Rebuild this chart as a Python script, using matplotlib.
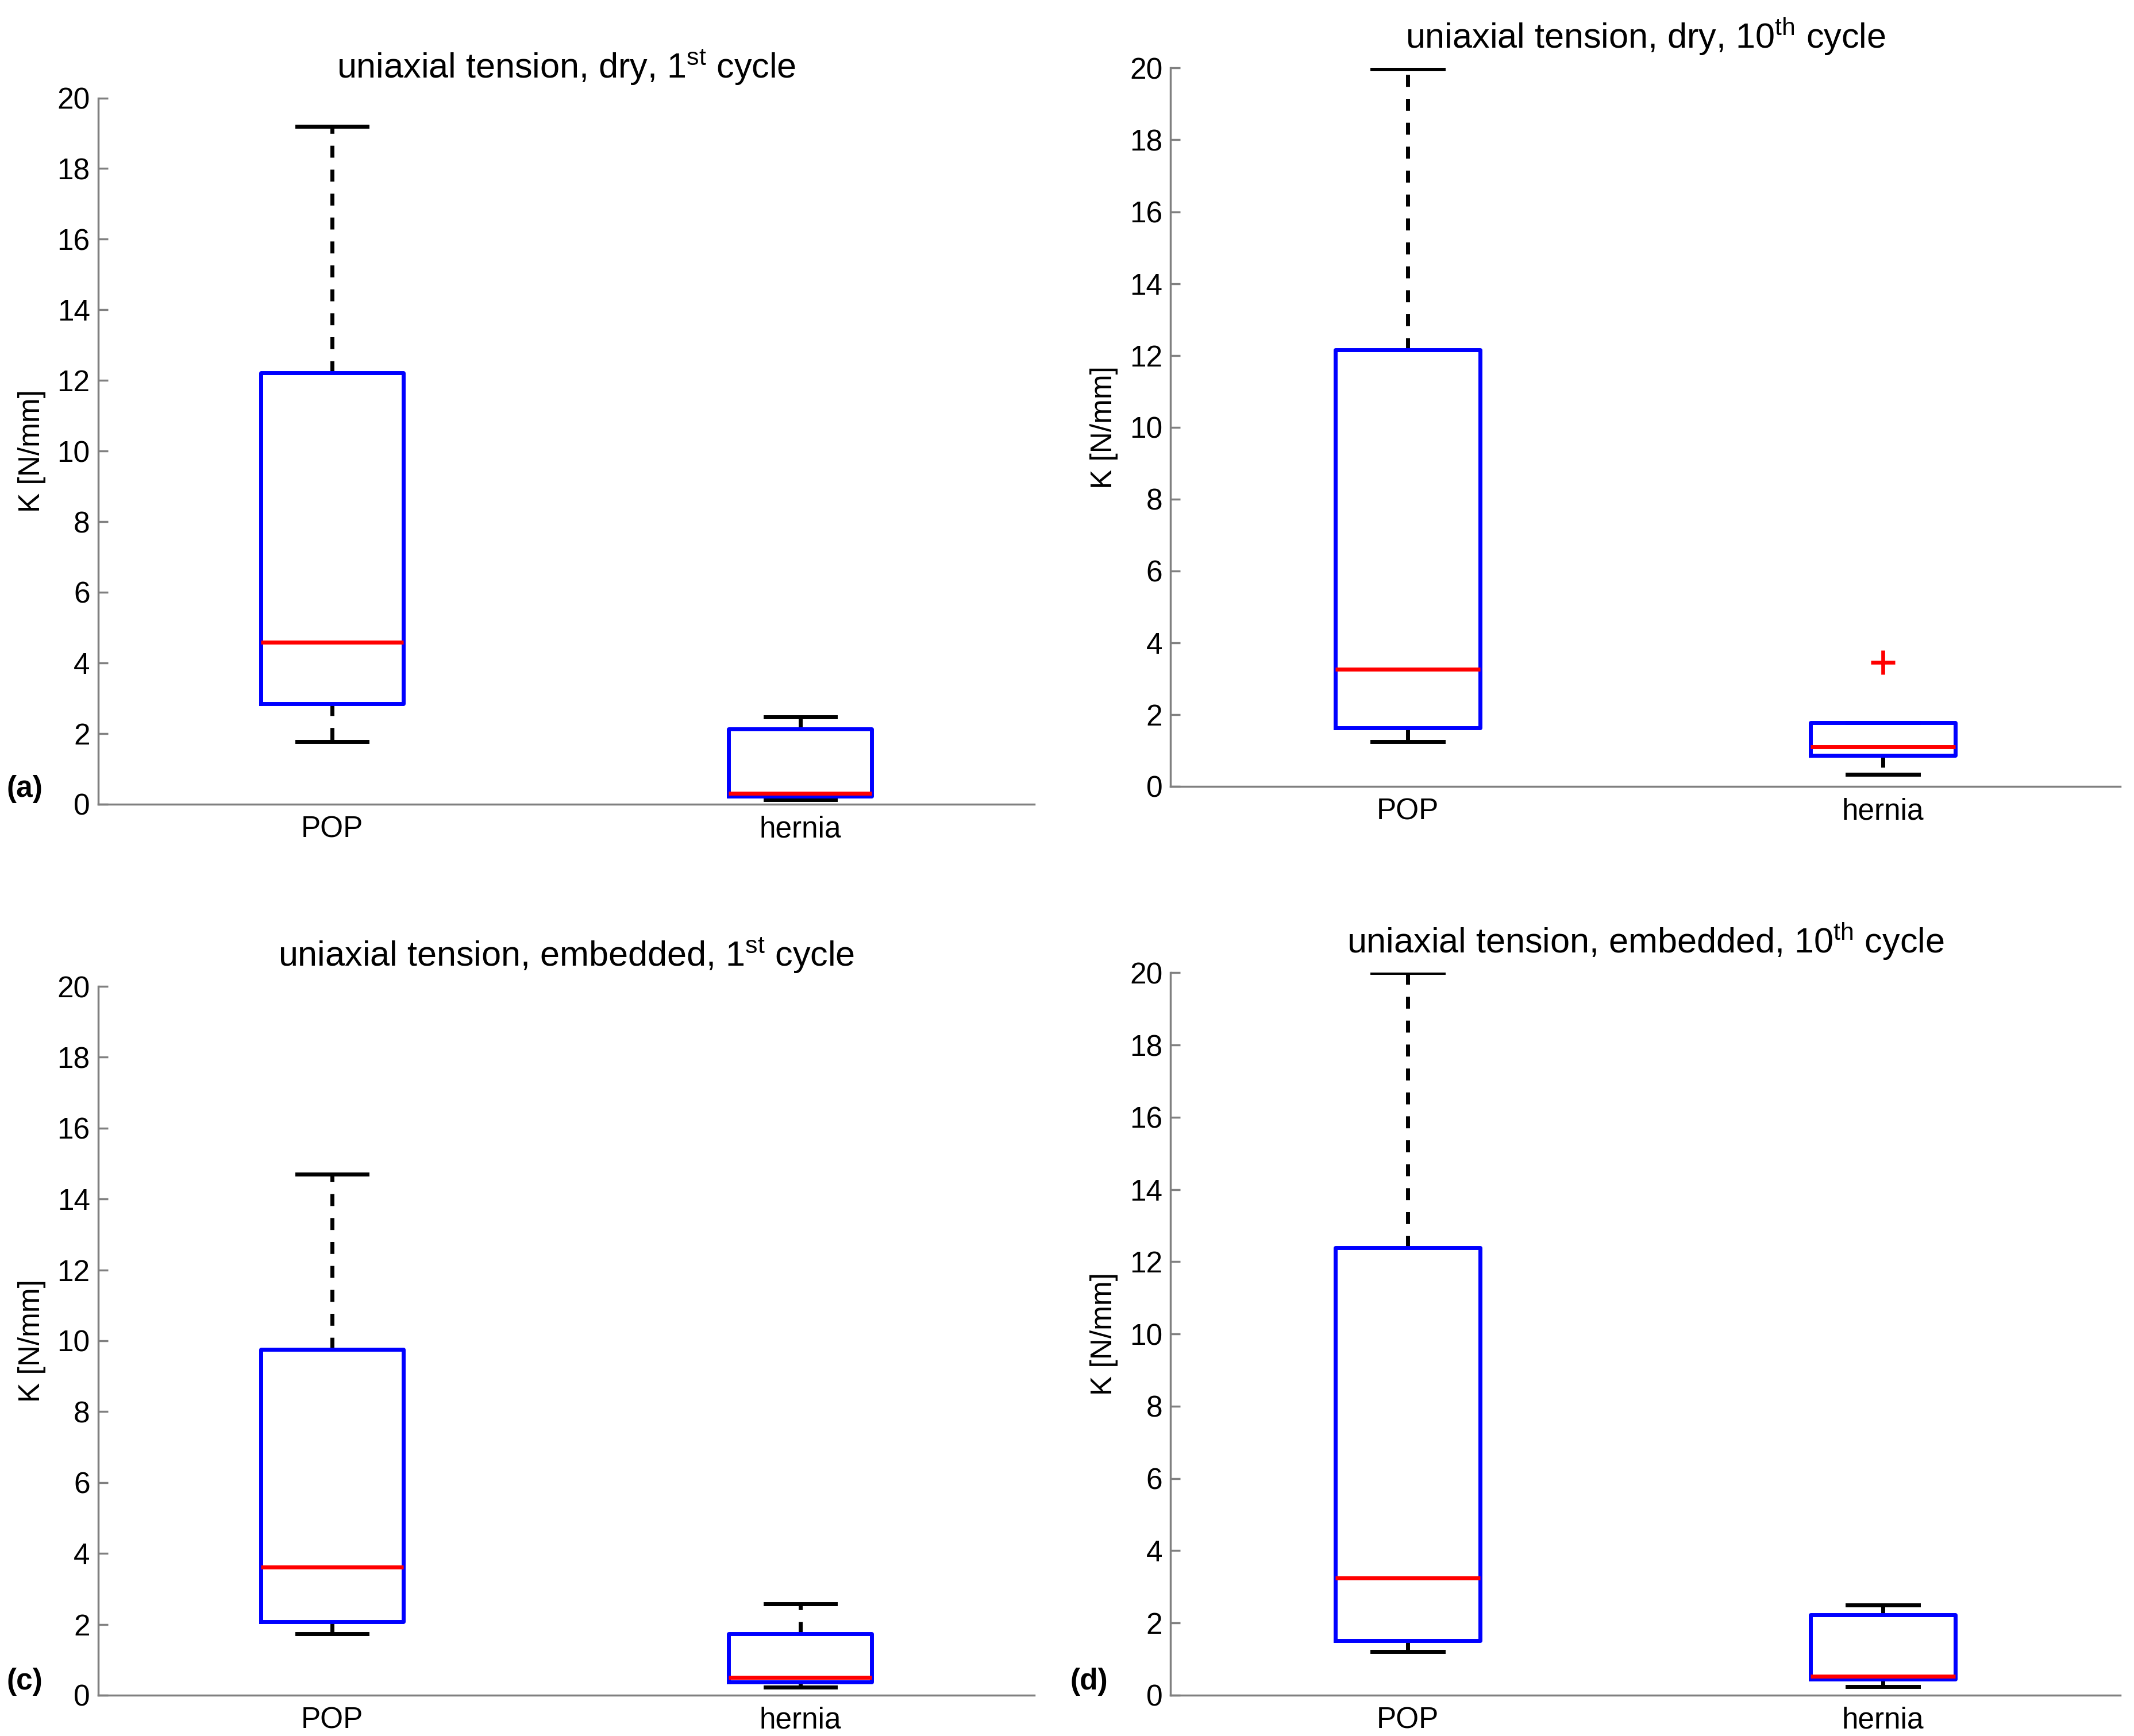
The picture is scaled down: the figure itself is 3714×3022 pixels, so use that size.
import matplotlib
matplotlib.use("Agg")
import matplotlib.pyplot as plt

plt.rcParams['font.family'] = ['Liberation Sans', 'DejaVu Sans']
plt.rcParams['mathtext.fontset'] = 'custom'
plt.rcParams['mathtext.rm'] = 'Liberation Sans'
plt.rcParams['mathtext.it'] = 'Liberation Sans'

categories = ["POP", "hernia"]
titles = [
    r"uniaxial tension, dry, 1$^{\mathrm{st}}$ cycle",
    r"uniaxial tension, dry, 10$^{\mathrm{th}}$ cycle",
    r"uniaxial tension, embedded, 1$^{\mathrm{st}}$ cycle",
    r"uniaxial tension, embedded, 10$^{\mathrm{th}}$ cycle",
]
panel_labels = ["(a)", "", "(c)", "(d)"]

# [lower whisker, Q1, median, Q3, upper whisker] for POP, hernia
dry_1st_pop = [1.77, 2.85, 4.59, 12.22, 19.19]
dry_1st_hernia = [0.12, 0.23, 0.31, 2.12, 2.47]
dry_10th_pop = [1.25, 1.63, 3.26, 12.16, 19.97]
dry_10th_hernia = [0.34, 0.87, 1.10, 1.78, 1.78]
emb_1st_pop = [1.73, 2.07, 3.61, 9.75, 14.70]
emb_1st_hernia = [0.23, 0.38, 0.50, 1.73, 2.57]
emb_10th_pop = [1.21, 1.51, 3.24, 12.39, 20.0]
emb_10th_hernia = [0.23, 0.45, 0.53, 2.22, 2.49]

dry_10th_hernia_outliers = [3.45]

panels = [
    (dry_1st_pop, dry_1st_hernia, [], []),
    (dry_10th_pop, dry_10th_hernia, [], dry_10th_hernia_outliers),
    (emb_1st_pop, emb_1st_hernia, [], []),
    (emb_10th_pop, emb_10th_hernia, [], []),
]

yticks = list(range(0, 21, 2))

W, H = 1568.0, 1276.0
positions = [
    (72, 760, 591, 72),
    (860, 1558, 578, 50),
    (72, 760, 1246, 725),
    (860, 1558, 1246, 715),
]
label_pos = [(18, 580), None, (18, 1236), (800, 1236)]

fig = plt.figure(figsize=(37.14, 30.22), dpi=100)

for i, (pop, her, pop_out, her_out) in enumerate(panels):
    l, r, b, t = positions[i]
    ax = fig.add_axes([l / W, 1 - b / H, (r - l) / W, (b - t) / H])
    stats = []
    for name, v, out in ((categories[0], pop, pop_out), (categories[1], her, her_out)):
        stats.append(dict(label=name, whislo=v[0], q1=v[1], med=v[2], q3=v[3],
                          whishi=v[4], fliers=out))
    ax.bxp(stats, positions=[1, 2], widths=0.305, capwidths=0.15,
           showfliers=True,
           boxprops=dict(color=(0, 0, 1), linewidth=5.0, zorder=3),
           medianprops=dict(color=(1, 0, 0), linewidth=5.0, zorder=3.5),
           whiskerprops=dict(color='black', linewidth=5.0, linestyle=(0, (3.0, 3.0)),
                             zorder=2),
           capprops=dict(color='black', linewidth=5.0, zorder=2),
           flierprops=dict(marker='+', markeredgecolor=(1, 0, 0), markersize=30,
                           markeredgewidth=4.8, linestyle='none'))
    ax.set_xlim(0.5, 2.5)
    ax.set_ylim(0, 20)
    ax.set_yticks(yticks)
    ax.set_yticklabels([str(v) for v in yticks])
    ax.set_xticks([1, 2])
    ax.set_xticklabels(categories)
    for s in ('top', 'right'):
        ax.spines[s].set_visible(False)
    for s in ('left', 'bottom'):
        ax.spines[s].set_color('#808080')
        ax.spines[s].set_linewidth(2.5)
    ax.tick_params(axis='y', direction='in', length=12, width=2.5, color='#808080',
                   labelsize=37, pad=10)
    ax.tick_params(axis='x', length=0, labelsize=37, pad=14)
    ax.set_ylabel("K [N/mm]", fontsize=37, labelpad=14)
    ax.set_title(titles[i], fontsize=44, pad=25)
    if label_pos[i] is not None:
        lx, ly = label_pos[i]
        fig.text(lx / W, 1 - ly / H, panel_labels[i], fontsize=37, fontweight='bold',
                 ha='center', va='center')

fig.savefig("out.png", dpi=100)
